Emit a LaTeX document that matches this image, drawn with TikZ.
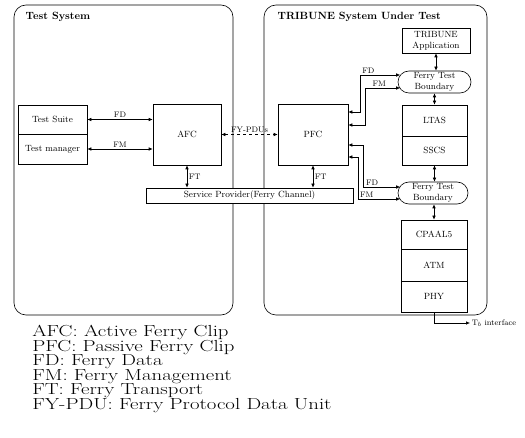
\documentclass[tikz,border=0pt]{standalone}
\usetikzlibrary{arrows.meta,shapes.misc}
\begin{document}
\begin{tikzpicture}[x=1pt,y=-1pt,line width=0.6pt,
  box/.style={draw,fill=white,inner sep=1pt,font=\small,align=center},
  bound/.style={draw,rounded rectangle,fill=white,inner sep=1pt,font=\small,align=center},
  lbl/.style={font=\footnotesize,inner sep=1.5pt},
  title/.style={anchor=west,font=\fontsize{10.5}{12}\selectfont\bfseries},
  dbl/.style={{Latex[length=4pt,width=3.5pt]}-{Latex[length=4pt,width=3.5pt]}},
  legend/.style={font=\fontsize{16}{18}\selectfont,anchor=base west,inner sep=0pt}]
  \useasboundingbox (0,0) rectangle (525,438);
  % the two systems
  \draw[rounded corners=12pt] (14,5) rectangle (233,315);
  \draw[rounded corners=12pt] (264,5) rectangle (487,315);
  \node[title] (tsys) at (22,17) {Test System};
  \node[title] (usys) at (274,17) {TRIBUNE System Under Test};
  % test side
  \node[box,minimum width=69pt,minimum height=29pt] (suite) at (52.5,119.5) {Test Suite};
  \node[box,minimum width=69pt,minimum height=30pt] (manager) at (52.5,149) {Test manager};
  \node[box,minimum width=68pt,minimum height=61pt] (afc) at (187,134.5) {AFC};
  \node[box,minimum width=70pt,minimum height=61pt] (pfc) at (313,134.5) {PFC};
  \node[box,minimum width=207pt,minimum height=15pt] (sp) at (249.5,195.5) {Service Provider(Ferry Channel)};
  \draw[dbl] (suite.east) -- (suite.east -| afc.west) node[lbl,midway,above]{FD};
  \draw[dbl] (manager.east) -- (manager.east -| afc.west) node[lbl,midway,above]{FM};
  \draw[dbl,dashed] (afc.east) -- (pfc.west) node[lbl,midway,above]{FY-PDUs};
  \draw[dbl] (afc.south) -- (afc.south |- sp.north) node[lbl,midway,right]{FT};
  \draw[dbl] (pfc.south) -- (pfc.south |- sp.north) node[lbl,midway,right]{FT};
  % TRIBUNE stack
  \node[box,minimum width=68pt,minimum height=25pt] (app) at (436,40.5) {TRIBUNE\\Application};
  \node[bound,minimum width=75pt,minimum height=22pt] (ftbA) at (434.5,82) {Ferry Test\\Boundary};
  \node[box,minimum width=65pt,minimum height=31pt] (ltas) at (434.5,120.5) {LTAS};
  \node[box,minimum width=65pt,minimum height=29pt] (sscs) at (434.5,150.5) {SSCS};
  \node[bound,minimum width=72pt,minimum height=22pt] (ftbB) at (433,193) {Ferry Test\\Boundary};
  \node[box,minimum width=66pt,minimum height=29pt] (cpaal) at (434,234.5) {CPAAL5};
  \node[box,minimum width=66pt,minimum height=32pt] (atm) at (434,265) {ATM};
  \node[box,minimum width=66pt,minimum height=31pt] (phy) at (434,296.5) {PHY};
  \draw[dbl] (app.south) -- (app.south |- ftbA.north);
  \draw[dbl] (ltas.north |- ftbA.south) -- (ltas.north);
  \draw[dbl] (sscs.south) -- (sscs.south |- ftbB.north);
  \draw[dbl] (cpaal.north |- ftbB.south) -- (cpaal.north);
  % PFC to the boundaries
  \draw[dbl] ([yshift=22.5pt]pfc.east) -- ++(12,0) |- ([xshift=2.5pt,yshift=7pt]ftbA.west) node[lbl,pos=0.6,above]{FD};
  \draw[dbl] ([yshift=9.5pt]pfc.east) -- ++(17,0) |- ([xshift=2.5pt,yshift=-6pt]ftbA.west) node[lbl,pos=0.7,above]{FM};
  \draw[dbl] ([yshift=-10.5pt]pfc.east) -- ++(15,0) |- ([xshift=2.5pt,yshift=6pt]ftbB.west) node[lbl,pos=0.62,above]{FD};
  \draw[dbl] ([yshift=-22.5pt]pfc.east) -- ++(10,0) |- ([xshift=2.5pt,yshift=-6pt]ftbB.west) node[lbl,pos=0.6,above]{FM};
  \coordinate (tb) at (470,323);
  \draw[-{Latex[length=4pt,width=3.5pt]}] (phy.south) |- (tb) node[lbl,right]{T$_b$ interface};
  % legend
  \foreach \abbr/\full [count=\i] in {AFC/Active Ferry Clip,PFC/Passive Ferry Clip,FD/Ferry Data,FM/Ferry Management,FT/Ferry Transport,FY-PDU/Ferry Protocol Data Unit}
    \node[legend] (leg\i) at (32,{322.5+14.5*\i}) {\scalebox{1.3}[1]{\abbr: \full}};
\end{tikzpicture}
\end{document}
